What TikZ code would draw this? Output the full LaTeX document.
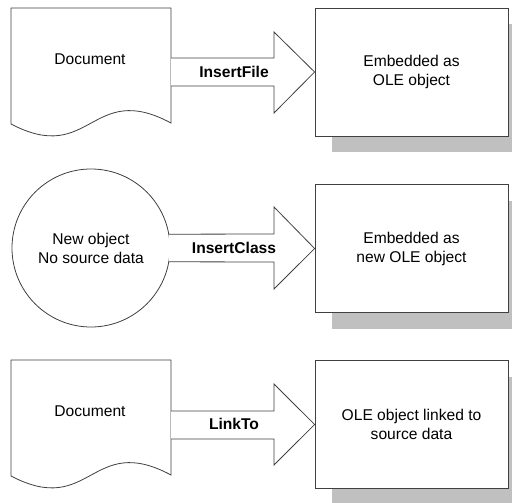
\documentclass[tikz,border=0pt]{standalone}
\usepackage{fontspec}
\setmainfont{Liberation Sans}
\usetikzlibrary{shadows}
\definecolor{linec}{HTML}{404040}
\definecolor{shadowc}{HTML}{C0C0C0}
\begin{document}
\begin{tikzpicture}[x=1pt,y=-1pt,
  every node/.style={font=\fontsize{15.6}{19}\selectfont, text=black, align=center, inner sep=0pt},
  olebox/.style={draw=linec, line width=0.8pt, fill=white, minimum width=193pt, minimum height=128pt,
    general shadow={fill=shadowc, shadow xshift=17pt, shadow yshift=-16pt}},
  docshape/.style={draw=linec, line width=0.8pt, fill=white},
  arrline/.style={draw=linec, line width=0.8pt, line join=miter},
  lbl/.style={font=\fontsize{15.6}{19}\selectfont\bfseries}]
\useasboundingbox (0,0) rectangle (512,503);

% --- row 1 ---
\draw[docshape] (11,8) -- (171,8) -- (171,123) .. controls (91,80) and (91,166) .. (11,124) -- cycle;
\node (d1) at (90,59) {Document};
\coordinate (a1s) at (171,58);
\coordinate (a1b) at (171,86);
\node[olebox] (b1) at (411.5,72) {Embedded as\\OLE object};
\fill[white] (a1s) -- (274,58) -- (274,32) -- (b1.west) -- (274,113) -- (274,86) -- (a1b) -- cycle;
\draw[arrline] (a1s) -- (274,58) -- (274,32) -- (b1.west) -- (274,113) -- (274,86) -- (a1b);
\node[lbl] (l1) at (234,71.5) {InsertFile};

% --- row 2 ---
\node[draw=linec, line width=0.8pt, circle, minimum size=158pt, fill=white] (c) at (91,248) {New object\\No source data};
\node[olebox] (b2) at (411.5,248.5) {Embedded as\\new OLE object};
\fill[white] (c.10.2) -- (274,234) -- (274,207) -- (b2.west) -- (274,289) -- (274,262) -- (c.-10.2) -- cycle;
\draw[arrline] (c.10.2) -- (274,234) -- (274,207) -- (b2.west) -- (274,289) -- (274,262) -- (c.-10.2);
\node[lbl] (l2) at (234,247.5) {InsertClass};

% --- row 3 ---
\draw[docshape] (11,360) -- (171,360) -- (171,475) .. controls (91,432) and (91,518) .. (11,476) -- cycle;
\node (d3) at (90,411) {Document};
\coordinate (a3s) at (171,411);
\coordinate (a3b) at (171,439);
\node[olebox] (b3) at (411.5,424.5) {OLE object linked to\\source data};
\fill[white] (a3s) -- (274,411) -- (274,384) -- (b3.west) -- (274,465) -- (274,439) -- (a3b) -- cycle;
\draw[arrline] (a3s) -- (274,411) -- (274,384) -- (b3.west) -- (274,465) -- (274,439) -- (a3b);
\node[lbl] (l3) at (234,423.5) {LinkTo};
\end{tikzpicture}
\end{document}
